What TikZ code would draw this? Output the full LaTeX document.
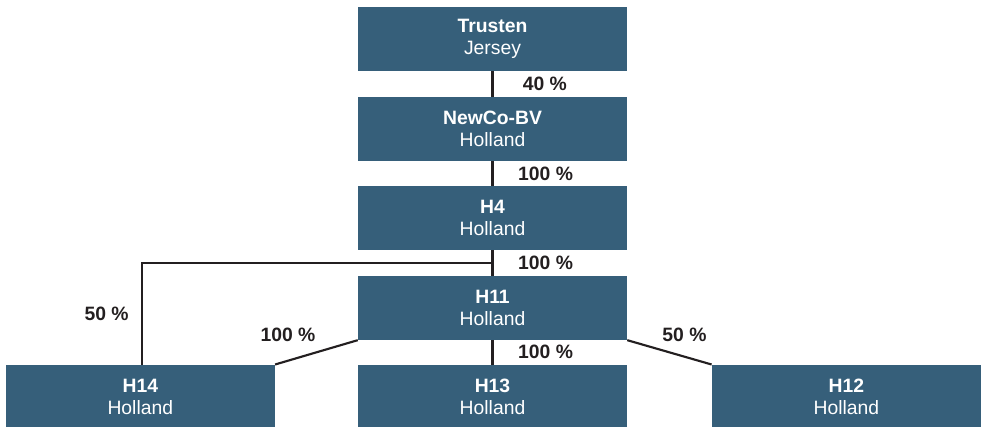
\documentclass[tikz,border=0pt]{standalone}
\usepackage{fontspec}
\setmainfont{Liberation Sans}
\usepackage{xcolor}
\usepackage{tikz}
\usetikzlibrary{positioning,calc}

\definecolor{boxblue}{RGB}{54,95,122}
\definecolor{pcttext}{RGB}{35,31,32}

\begin{document}
\begin{tikzpicture}[
    box/.style={fill=boxblue, text=white, minimum width=201.75pt, minimum height=48pt, align=center, inner sep=2pt, font=\fontsize{14.5}{16.5}\selectfont},
    link/.style={draw=pcttext, line width=1.6pt},
    pct/.style={text=pcttext, inner sep=0pt, font=\fontsize{14.5}{16.5}\selectfont\bfseries}
]
    \useasboundingbox (-369.4pt,-291pt) rectangle (367.9pt,29.25pt);
    \node[box] (trusten) {\textbf{Trusten}\\Jersey};
    \node[box, below=19pt of trusten] (newco) {\textbf{NewCo-BV}\\Holland};
    \node[box, below=18.5pt of newco] (h4) {\textbf{H4}\\Holland};
    \node[box, below=19pt of h4] (h11) {\textbf{H11}\\Holland};
    \node[box, below=18.25pt of h11] (h13) {\textbf{H13}\\Holland};
    \node[box, left=62pt of h13] (h14) {\textbf{H14}\\Holland};
    \node[box, right=63.25pt of h13] (h12) {\textbf{H12}\\Holland};
    \coordinate (split) at ($(h4.south)!0.5!(h11.north)$);
    \draw[link] (trusten) -- (newco) node[pct, midway, anchor=west, xshift=22pt] {40 \%};
    \draw[link] (newco) -- (h4) node[pct, midway, anchor=west, xshift=18.5pt] {100 \%};
    \draw[link] (h4) -- (h11) node[pct, pos=0.5, anchor=west, xshift=18.5pt] {100 \%};
    \draw[link] (h11) -- (h13) node[pct, midway, anchor=west, xshift=18.5pt] {100 \%};
    \draw[link] (split) -| ([xshift=1pt]h14.north) node[pct, pos=0.75, anchor=east, xshift=-9pt] {50 \%};
    \draw[link] (h11.south west) -- (h14.north east) node[pct, midway, anchor=south east, yshift=7.5pt] {100 \%};
    \draw[link] (h11.south east) -- (h12.north west) node[pct, midway, anchor=south west, xshift=-6pt, yshift=7.5pt] {50 \%};
\end{tikzpicture}
\end{document}
